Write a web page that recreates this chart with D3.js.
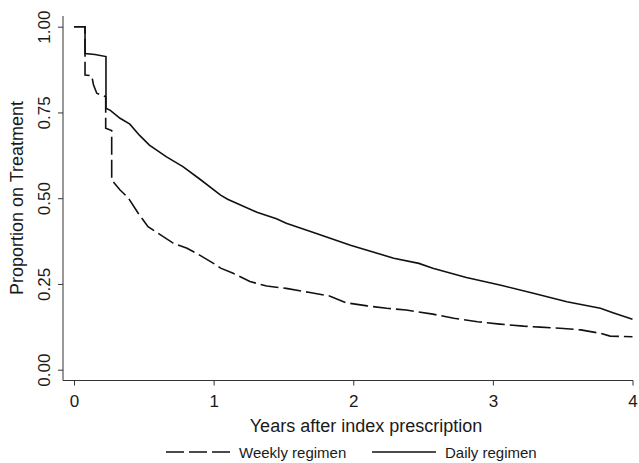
<!DOCTYPE html>
<html>
<head>
<meta charset="utf-8">
<script src="https://cdn.jsdelivr.net/npm/d3@7"></script>
<style>
  body { margin: 0; background: #fff; }
  text { font-family: "Liberation Sans", Arial, sans-serif; fill: #1a1a1a; }
</style>
</head>
<body>
<div id="chart"></div>
<script>
// Kaplan-Meier style curves
var weeklyYears = [0, 0.079, 0.079, 0.127, 0.14, 0.163, 0.227, 0.227, 0.27, 0.27, 0.33, 0.39, 0.46, 0.53, 0.62, 0.71, 0.81, 0.90, 1.02, 1.05, 1.14, 1.26, 1.38, 1.52, 1.69, 1.83, 1.95, 2.10, 2.24, 2.38, 2.57, 2.72, 2.89, 3.05, 3.22, 3.34, 3.48, 3.63, 3.77, 3.84, 4.0];
var weeklyProp = [1.0, 1.0, 0.859, 0.857, 0.83, 0.806, 0.796, 0.704, 0.697, 0.553, 0.524, 0.50, 0.456, 0.417, 0.393, 0.369, 0.354, 0.334, 0.305, 0.296, 0.281, 0.257, 0.244, 0.237, 0.225, 0.215, 0.195, 0.186, 0.179, 0.174, 0.162, 0.150, 0.140, 0.133, 0.127, 0.124, 0.121, 0.116, 0.106, 0.098, 0.096];

var dailyYears = [0, 0.079, 0.079, 0.15, 0.229, 0.229, 0.26, 0.33, 0.40, 0.47, 0.54, 0.66, 0.78, 0.90, 1.05, 1.10, 1.31, 1.45, 1.52, 1.71, 1.98, 2.29, 2.47, 2.57, 2.81, 3.05, 3.29, 3.53, 3.77, 3.86, 4.0];
var dailyProp = [1.0, 1.0, 0.922, 0.919, 0.913, 0.762, 0.756, 0.733, 0.716, 0.683, 0.655, 0.621, 0.592, 0.556, 0.509, 0.497, 0.459, 0.440, 0.427, 0.401, 0.363, 0.325, 0.310, 0.296, 0.269, 0.247, 0.223, 0.198, 0.179, 0.166, 0.147];

var xTicks = [0, 1, 2, 3, 4];
var yTicks = [0, 0.25, 0.5, 0.75, 1];
var seriesNames = ["Weekly regimen", "Daily regimen"];

var W = 639, H = 463;

var svg = d3
  .select("#chart")
  .append("svg")
  .attr("width", W)
  .attr("height", H);

// scales
var x = d3.scaleLinear().domain([0, 4]).range([74, 632.5]);
var y = d3.scaleLinear().domain([0, 1]).range([369.7, 26.7]);

// axis frame (Stata leaves a little padding round the data)
var axisX = 63, axisY = 380.5;

svg.append("line")
  .attr("x1", axisX).attr("x2", axisX)
  .attr("y1", 16).attr("y2", axisY)
  .attr("stroke", "#333").attr("stroke-width", 1);
svg.append("line")
  .attr("x1", axisX).attr("x2", 633)
  .attr("y1", axisY).attr("y2", axisY)
  .attr("stroke", "#333").attr("stroke-width", 1);

// Y axis
var yAxis = svg.append("g")
  .attr("transform", "translate(" + axisX + ",0)")
  .call(d3.axisLeft(y).tickValues(yTicks).tickFormat(d3.format(".2f")).tickSize(5).tickSizeOuter(0));
yAxis.select(".domain").remove();
yAxis.selectAll("line").attr("stroke", "#333");
yAxis.selectAll("text")
  .attr("x", 0)
  .attr("y", -13)
  .attr("dy", 0)
  .attr("transform", "rotate(-90)")
  .attr("text-anchor", "middle")
  .style("font-size", "17px")
  .style("font-family", "Liberation Sans, Arial, sans-serif")
  .attr("fill", "#1a1a1a");

// X axis
var xAxis = svg.append("g")
  .attr("transform", "translate(0," + axisY + ")")
  .call(d3.axisBottom(x).tickValues(xTicks).tickFormat(d3.format("d")).tickSize(5).tickSizeOuter(0));
xAxis.select(".domain").remove();
xAxis.selectAll("line").attr("stroke", "#333");
xAxis.selectAll("text")
  .attr("y", 26)
  .attr("dy", 0)
  .style("font-size", "17px")
  .style("font-family", "Liberation Sans, Arial, sans-serif")
  .attr("fill", "#1a1a1a");

// axis titles
svg.append("text")
  .attr("x", 366)
  .attr("y", 432)
  .attr("text-anchor", "middle")
  .style("font-size", "18px")
  .text("Years after index prescription");

svg.append("text")
  .attr("transform", "translate(23,198) rotate(-90)")
  .attr("text-anchor", "middle")
  .style("font-size", "18px")
  .text("Proportion on Treatment");

// curves
var line = d3.line()
  .x(function (d) { return x(d[0]); })
  .y(function (d) { return y(d[1]); });

var weekly = d3.zip(weeklyYears, weeklyProp);
var daily = d3.zip(dailyYears, dailyProp);

svg.append("path")
  .datum(weekly)
  .attr("d", line)
  .attr("fill", "none")
  .attr("stroke", "#111")
  .attr("stroke-width", 1.6)
  .attr("stroke-dasharray", "18,5");

svg.append("path")
  .datum(daily)
  .attr("d", line)
  .attr("fill", "none")
  .attr("stroke", "#111")
  .attr("stroke-width", 1.6);

// legend
var legendY = 452;
var legend = [
  { name: seriesNames[0], x0: 166, dash: "18,5" },
  { name: seriesNames[1], x0: 372, dash: null }
];
legend.forEach(function (d) {
  svg.append("line")
    .attr("x1", d.x0).attr("x2", d.x0 + 64)
    .attr("y1", legendY).attr("y2", legendY)
    .attr("stroke", "#111")
    .attr("stroke-width", 1.4)
    .attr("stroke-dasharray", d.dash);
  svg.append("text")
    .attr("x", d.x0 + 73)
    .attr("y", legendY + 5.5)
    .style("font-size", "15px")
    .text(d.name);
});
</script>
</body>
</html>
